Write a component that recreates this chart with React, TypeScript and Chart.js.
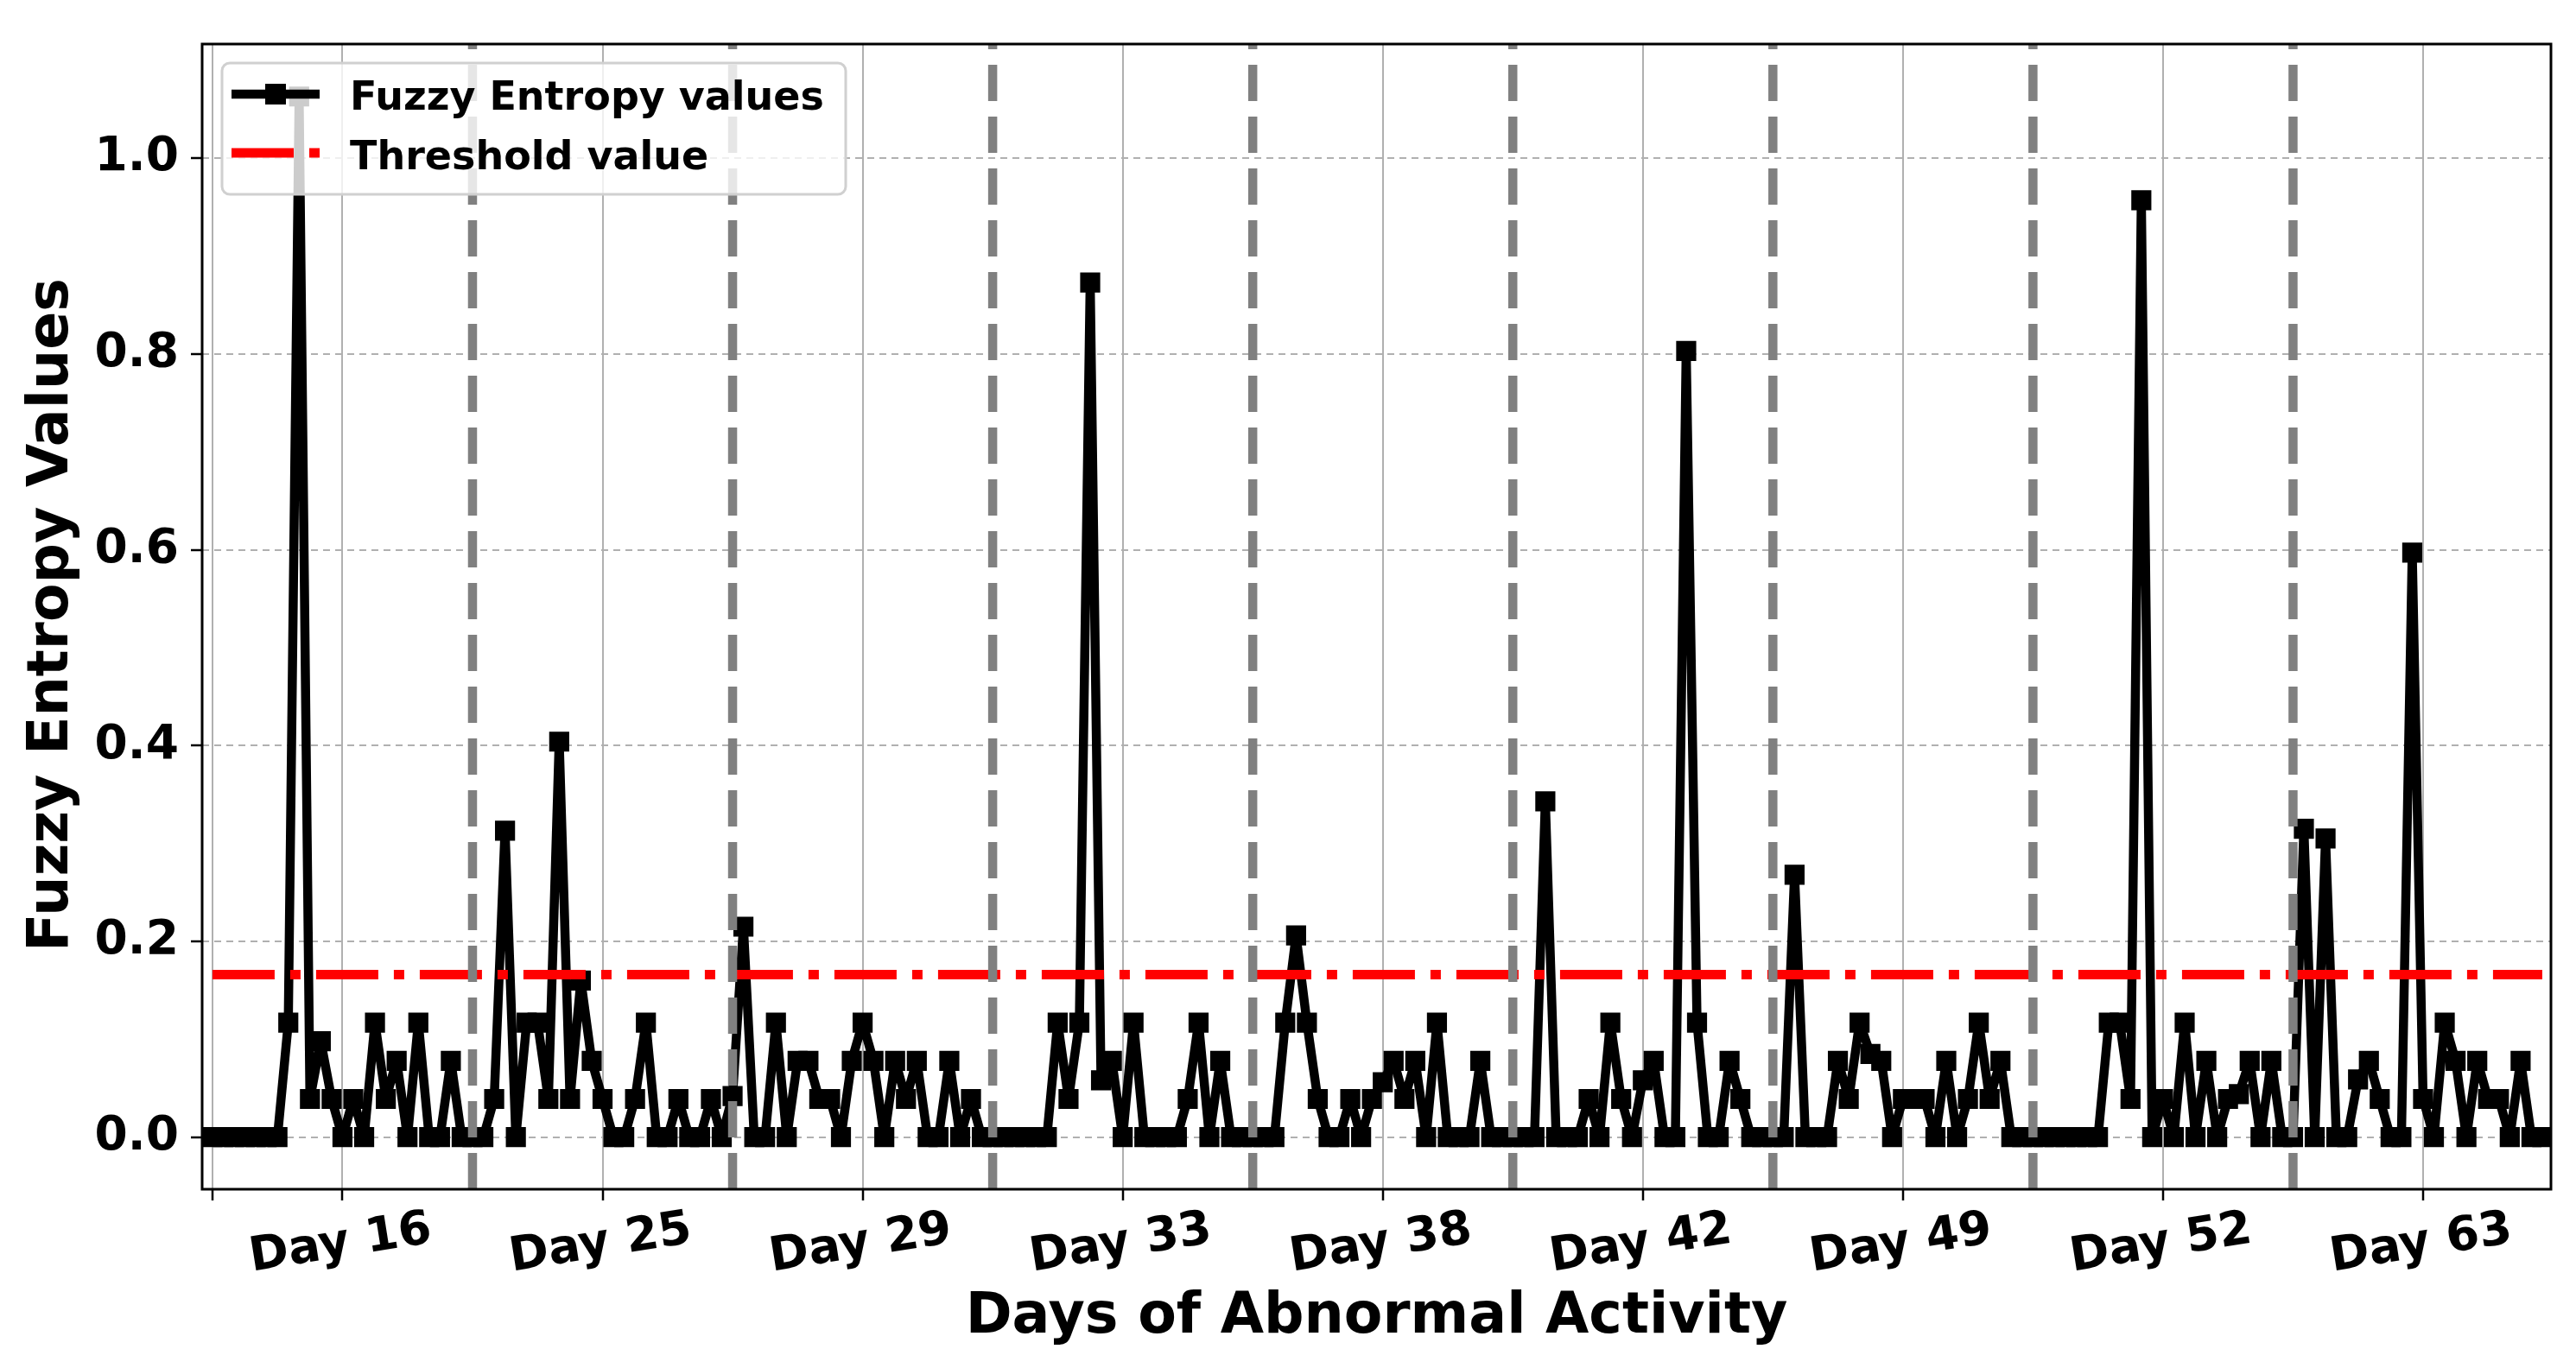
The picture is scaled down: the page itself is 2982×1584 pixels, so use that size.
import React, { useEffect, useRef } from 'react';
import { Chart, registerables } from 'chart.js';

Chart.register(...registerables);

// ---- Data (24 hourly values per day block) ----
const DAY_16 = [0, 0, 0, 0, 0, 0, 0, 0.117, 1.063, 0.039, 0.098, 0.039, 0, 0.039, 0, 0.117, 0.039, 0.078, 0, 0.117, 0, 0, 0.078, 0];
const DAY_25 = [0, 0, 0.039, 0.313, 0, 0.117, 0.117, 0.039, 0.404, 0.039, 0.16, 0.078, 0.039, 0, 0, 0.039, 0.117, 0, 0, 0.039, 0, 0, 0.039, 0];
const DAY_29 = [0.042, 0.215, 0, 0, 0.117, 0, 0.078, 0.078, 0.039, 0.039, 0, 0.078, 0.117, 0.078, 0, 0.078, 0.039, 0.078, 0, 0, 0.078, 0, 0.039, 0];
const DAY_33 = [0, 0, 0, 0, 0, 0, 0.117, 0.039, 0.117, 0.873, 0.058, 0.078, 0, 0.117, 0, 0, 0, 0, 0.039, 0.117, 0, 0.078, 0, 0];
const DAY_38 = [0, 0, 0, 0.117, 0.206, 0.117, 0.039, 0, 0, 0.039, 0, 0.039, 0.056, 0.078, 0.039, 0.078, 0, 0.117, 0, 0, 0, 0.078, 0, 0];
const DAY_42 = [0, 0, 0, 0.343, 0, 0, 0, 0.039, 0, 0.117, 0.039, 0, 0.058, 0.078, 0, 0, 0.803, 0.117, 0, 0, 0.078, 0.039, 0, 0];
const DAY_49 = [0, 0, 0.268, 0, 0, 0, 0.078, 0.039, 0.117, 0.085, 0.078, 0, 0.039, 0.039, 0.039, 0, 0.078, 0, 0.039, 0.117, 0.039, 0.078, 0, 0];
const DAY_52 = [0, 0, 0, 0, 0, 0, 0, 0.117, 0.117, 0.039, 0.957, 0, 0.039, 0, 0.117, 0, 0.078, 0, 0.039, 0.044, 0.078, 0, 0.078, 0];
const DAY_63 = [0, 0.315, 0, 0.305, 0, 0, 0.059, 0.078, 0.039, 0, 0, 0.597, 0.039, 0, 0.117, 0.078, 0, 0.078, 0.039, 0.039, 0, 0.078, 0, 0];

const FUZZY_ENTROPY = [...DAY_16, ...DAY_25, ...DAY_29, ...DAY_33, ...DAY_38, ...DAY_42, ...DAY_49, ...DAY_52, ...DAY_63];
const THRESHOLD = 0.166;

const TICK_POSITIONS = [0, 12, 36, 60, 84, 108, 132, 156, 180, 204];
const TICK_LABELS = ['', 'Day 16', 'Day 25', 'Day 29', 'Day 33', 'Day 38', 'Day 42', 'Day 49', 'Day 52', 'Day 63'];
const DAY_BOUNDARIES = [24, 48, 72, 96, 120, 144, 168, 192];
const Y_TICKS = [0, 0.2, 0.4, 0.6, 0.8, 1.0];
const SERIES_LABELS = ['Fuzzy Entropy values', 'Threshold value'];
const X_TITLE = 'Days of Abnormal Activity';
const Y_TITLE = 'Fuzzy Entropy Values';

// ---- Layout / style ----
const W = 2982;
const H = 1584;
const AREA = { left: 234, top: 51, right: 2953, bottom: 1377 };
const FONT = '"DejaVu Sans", "Liberation Sans", sans-serif';
const THRESH_DASH = [72, 18, 12, 18];

const overlayPlugin = {
  id: 'overlay',
  afterDatasetsDraw(chart: any) {
    const { ctx, chartArea: a, scales } = chart;
    const xs = scales.x;
    ctx.save();
    ctx.beginPath();
    ctx.rect(a.left, a.top, a.right - a.left, a.bottom - a.top);
    ctx.clip();
    ctx.strokeStyle = '#808080';
    ctx.lineWidth = 10.5;
    ctx.lineCap = 'butt';
    ctx.setLineDash([42, 18]);
    DAY_BOUNDARIES.forEach((d) => {
      const px = xs.getPixelForValue(d);
      ctx.beginPath();
      ctx.moveTo(px, a.bottom);
      ctx.lineTo(px, a.top);
      ctx.stroke();
    });
    ctx.restore();

    // axes frame
    ctx.save();
    ctx.strokeStyle = '#000';
    ctx.lineWidth = 3;
    ctx.strokeRect(a.left, a.top, a.right - a.left, a.bottom - a.top);
    ctx.restore();
  },
  afterDraw(chart: any) {
    const { ctx, chartArea: a, scales } = chart;
    const xs = scales.x;

    // legend
    ctx.save();
    const lx = 257, ly = 73, lw = 722, lh = 152;
    ctx.beginPath();
    if ((ctx as any).roundRect) (ctx as any).roundRect(lx, ly, lw, lh, 9);
    else ctx.rect(lx, ly, lw, lh);
    ctx.fillStyle = 'rgba(255,255,255,0.8)';
    ctx.fill();
    ctx.strokeStyle = '#d0d0d0';
    ctx.lineWidth = 3;
    ctx.stroke();

    // handle 1: black line with square marker
    ctx.strokeStyle = '#000';
    ctx.lineWidth = 10.5;
    ctx.lineCap = 'butt';
    ctx.beginPath();
    ctx.moveTo(268, 109);
    ctx.lineTo(370, 109);
    ctx.stroke();
    ctx.fillStyle = '#000';
    ctx.fillRect(319 - 12, 109 - 12, 24, 24);

    // handle 2: red dash-dot
    ctx.strokeStyle = '#ff0000';
    ctx.lineWidth = 11;
    ctx.setLineDash(THRESH_DASH);
    ctx.beginPath();
    ctx.moveTo(268, 177);
    ctx.lineTo(370, 177);
    ctx.stroke();
    ctx.setLineDash([]);

    ctx.fillStyle = '#000';
    ctx.font = `bold 46px ${FONT}`;
    ctx.textAlign = 'left';
    ctx.textBaseline = 'alphabetic';
    ctx.fillText(SERIES_LABELS[0], 405, 127);
    ctx.fillText(SERIES_LABELS[1], 405, 196);
    ctx.restore();

    // x tick labels (rotated, centered on tick)
    ctx.save();
    ctx.fillStyle = '#000';
    ctx.font = `bold 55px ${FONT}`;
    ctx.textAlign = 'center';
    ctx.textBaseline = 'alphabetic';
    TICK_POSITIONS.forEach((v, i) => {
      const label = TICK_LABELS[i];
      if (!label) return;
      const px = xs.getPixelForValue(v);
      ctx.save();
      ctx.translate(px, 1455);
      ctx.rotate((-9 * Math.PI) / 180);
      ctx.fillText(label, 0, 0);
      ctx.restore();
    });
    ctx.restore();

    // axis titles
    ctx.save();
    ctx.fillStyle = '#000';
    ctx.font = `bold 65px ${FONT}`;
    ctx.textAlign = 'center';
    ctx.textBaseline = 'alphabetic';
    ctx.fillText(X_TITLE, (a.left + a.right) / 2, 1543);
    ctx.translate(78, 712);
    ctx.rotate(-Math.PI / 2);
    ctx.fillText(Y_TITLE, 0, 0);
    ctx.restore();
  },
};

export default function App() {
  const canvasRef = useRef<HTMLCanvasElement | null>(null);

  useEffect(() => {
    const canvas = canvasRef.current;
    if (!canvas) return;
    const chart = new Chart(canvas, {
      type: 'line',
      data: {
        datasets: [
          {
            label: SERIES_LABELS[1],
            data: [
              { x: 0, y: THRESHOLD },
              { x: FUZZY_ENTROPY.length - 1, y: THRESHOLD },
            ],
            borderColor: '#ff0000',
            borderWidth: 11,
            borderDash: THRESH_DASH,
            borderCapStyle: 'butt',
            pointRadius: 0,
            fill: false,
            order: 0,
          },
          {
            label: SERIES_LABELS[0],
            data: FUZZY_ENTROPY.map((v, i) => ({ x: i, y: v })),
            borderColor: '#000000',
            borderWidth: 10.5,
            borderJoinStyle: 'round',
            pointStyle: 'rect',
            pointRadius: 15,
            pointBorderWidth: 2,
            pointBackgroundColor: '#000000',
            pointBorderColor: '#000000',
            fill: false,
            tension: 0,
            order: 1,
          },
        ],
      } as any,
      options: {
        responsive: false,
        animation: false,
        devicePixelRatio: 1,
        events: [],
        layout: {
          padding: { left: 0, top: AREA.top, right: W - AREA.right, bottom: 0 },
          autoPadding: false,
        },
        plugins: {
          legend: { display: false },
          tooltip: { enabled: false },
          title: { display: false },
        },
        scales: {
          x: {
            type: 'linear',
            min: -0.95,
            max: 215.8,
            afterBuildTicks: (s: any) => {
              s.ticks = TICK_POSITIONS.map((v) => ({ value: v }));
            },
            afterFit: (s: any) => {
              s.height = H - AREA.bottom;
            },
            ticks: { display: false, autoSkip: false },
            grid: {
              color: '#b0b0b0',
              lineWidth: 2,
              tickColor: '#000',
              tickLength: 13,
              tickWidth: 2.5,
            },
            border: { display: false },
          },
          y: {
            type: 'linear',
            min: -0.0532,
            max: 1.1166,
            afterBuildTicks: (s: any) => {
              s.ticks = Y_TICKS.map((v) => ({ value: v }));
            },
            afterFit: (s: any) => {
              s.width = AREA.left;
            },
            ticks: {
              callback: (v: any) => Number(v).toFixed(1),
              font: { family: FONT, weight: 'bold', size: 55 },
              color: '#000',
              padding: 14,
              autoSkip: false,
            },
            grid: {
              color: '#b0b0b0',
              lineWidth: 2,
              tickColor: '#000',
              tickLength: 13,
              tickWidth: 2.5,
            },
            border: { display: false, dash: [8, 6] },
          },
        },
      } as any,
      plugins: [overlayPlugin],
    });
    return () => chart.destroy();
  }, []);

  return (
    <div style={{ position: 'absolute', left: 0, top: 0, width: W, height: H, background: '#fff' }}>
      <canvas ref={canvasRef} width={W} height={H} style={{ display: 'block', width: W, height: H }} />
    </div>
  );
}
